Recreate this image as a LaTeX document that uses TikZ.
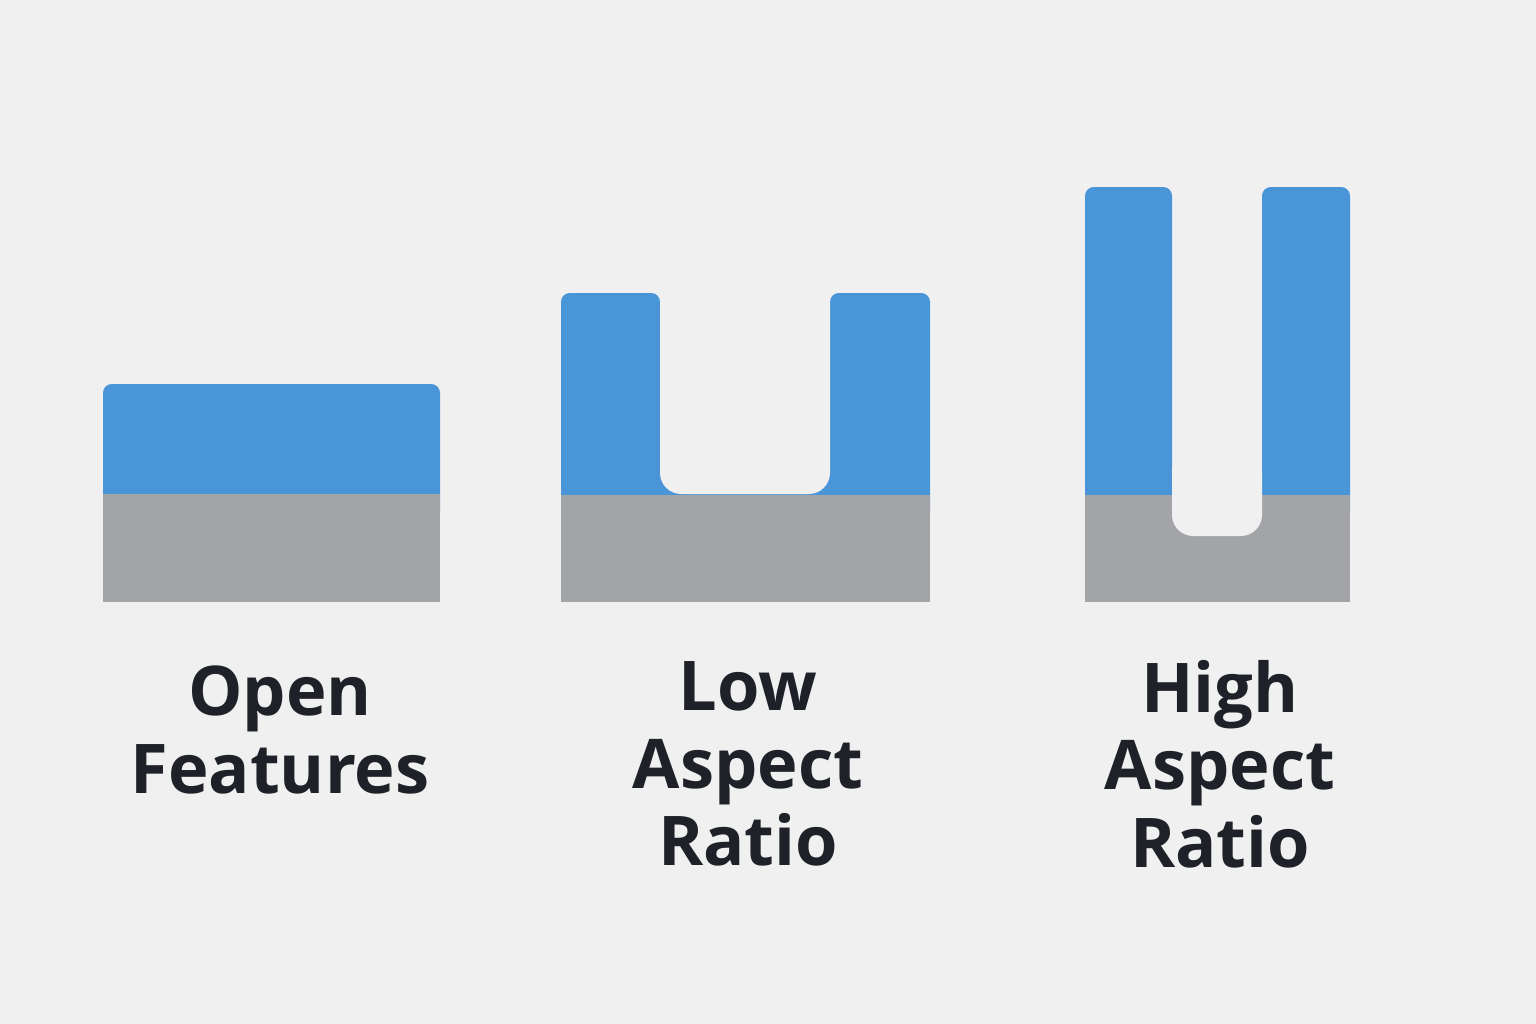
\documentclass[tikz,border=0pt]{standalone}
\usepackage{fontspec}
\setmainfont{Open Sans}
\definecolor{bgGrey}{HTML}{F0F0F0}
\definecolor{filmBlue}{HTML}{4A95D8}
\definecolor{baseGrey}{HTML}{A2A4A8}
\definecolor{inkDark}{HTML}{1E2228}
\tikzset{
  film/.style={fill=filmBlue, rounded corners=2.5pt},
  base/.style={fill=baseGrey},
  trench/.style={fill=bgGrey, rounded corners=6pt},
  label/.style={align=center, text=inkDark, font=\bfseries\fontsize{19.5}{22}\selectfont}
}
\begin{document}
\begin{tikzpicture}[x=0.01cm, y=-0.01cm]
  \fill[bgGrey] (0,0) rectangle (1536,1024);
  \useasboundingbox (0,0) rectangle (1536,1024);

  % open features
  \fill[film] (103,384) rectangle (440,520);
  \fill[base] (103,494) rectangle (440,602);

  % low aspect ratio
  \fill[film] (561,293) rectangle (660,520);
  \fill[film] (830,293) rectangle (930,520);
  \fill[filmBlue] (655,440) rectangle (835,500);
  \fill[trench] (660,250) rectangle (830,494);
  \fill[base] (561,495) rectangle (930,602);

  % high aspect ratio
  \fill[film] (1085,187) rectangle (1172,520);
  \fill[film] (1262,187) rectangle (1350,520);
  \fill[base] (1085,495) rectangle (1350,602);
  \fill[trench] (1172,450) rectangle (1262,536);

  \node[label] (openLbl) at (280,730) {Open\\Features};
  \node[label] (lowLbl) at (748,764) {Low\\Aspect\\Ratio};
  \node[label] (highLbl) at (1220,764) {High\\Aspect\\Ratio};
\end{tikzpicture}
\end{document}
